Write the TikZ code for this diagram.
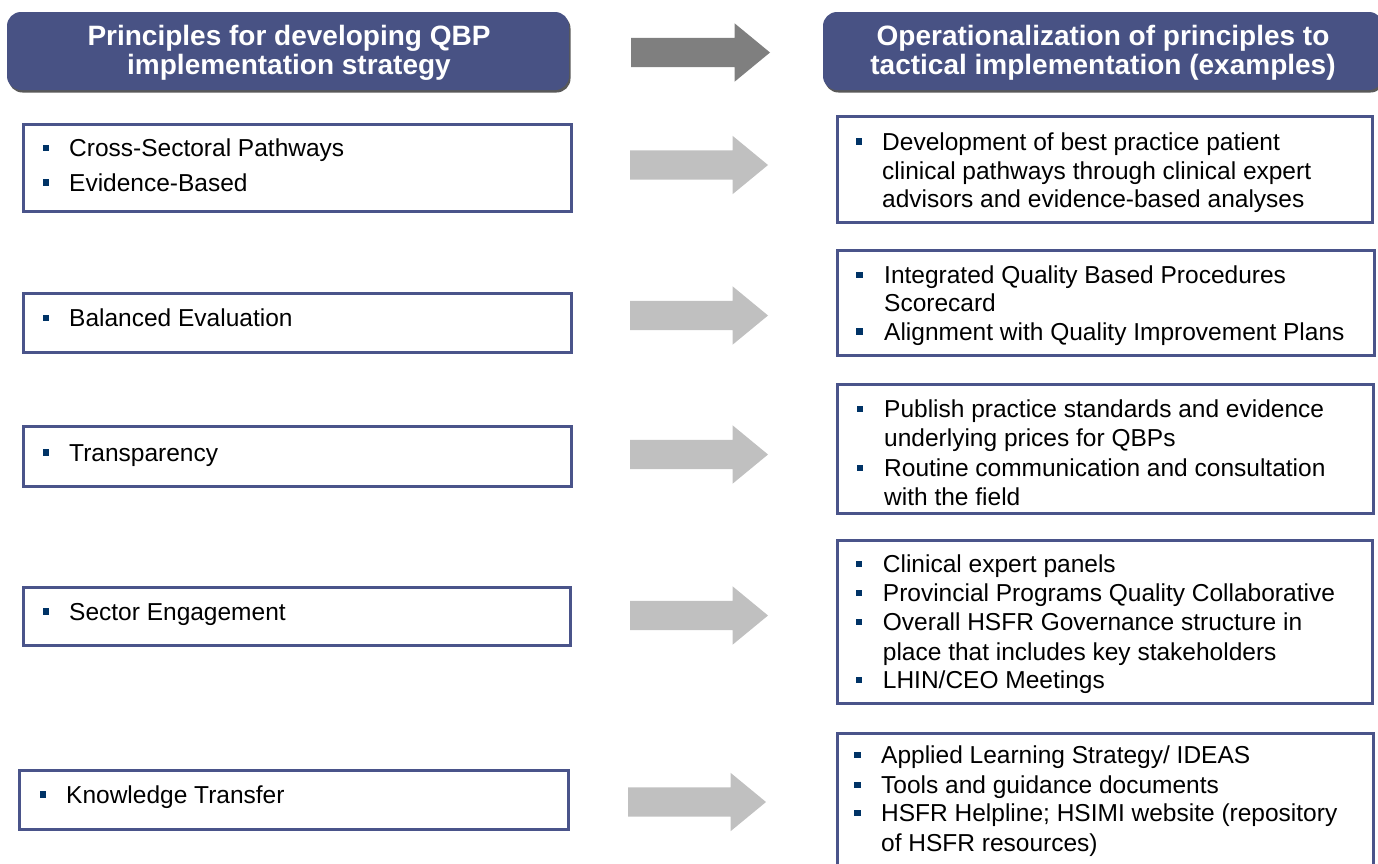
\documentclass[tikz,border=0pt]{standalone}
\usepackage{fontspec}
\setmainfont{Liberation Sans}
\usetikzlibrary{shapes.arrows,shadows}
\definecolor{hdr}{RGB}{72,82,132}
\definecolor{bord}{RGB}{74,84,138}
\definecolor{navy}{RGB}{0,51,102}
\definecolor{lightarr}{RGB}{192,192,192}
\definecolor{darkarr}{RGB}{127,127,127}
\begin{document}
\begin{tikzpicture}[x=1pt,y=-1pt,
  header/.style={rectangle, rounded corners=14pt, fill=hdr, draw=none, inner sep=0pt, outer sep=0pt,
    drop shadow={shadow xshift=1.5pt, shadow yshift=-2.5pt, fill=black!65, opacity=1}},
  hdrtext/.style={anchor=base, inner sep=0pt, text=white, font=\fontsize{28}{30}\selectfont\bfseries},
  pbox/.style={rectangle, draw=bord, line width=3pt, fill=white, inner sep=0pt, outer sep=0pt},
  item/.style={anchor=base west, inner sep=0pt, font=\fontsize{24.5}{28.5}\selectfont},
  bul/.style={rectangle, fill=navy, minimum size=6.5pt, inner sep=0pt, outer sep=0pt},
  blockarrow/.style={single arrow, anchor=tail, inner xsep=0pt, inner ysep=14.5pt,
    single arrow head extend=14.5pt, single arrow tip angle=79, minimum height=#1,
    outer sep=0pt, draw=none},
]
\useasboundingbox (0,0) rectangle (1378,863);
\clip (0,0) rectangle (1378,863);

% headers
\node[header, minimum width=562pt, minimum height=78pt] (HL) at (288,51) {};
\node[header, minimum width=560pt, minimum height=78pt] (HR) at (1103,51) {};
\node[hdrtext] (HLa) at (289,45) {Principles for developing QBP};
\node[hdrtext] (HLb) at (289,74.5) {implementation strategy};
\node[hdrtext] (HRa) at (1103,45) {Operationalization of principles to};
\node[hdrtext] (HRb) at (1103,74.5) {tactical implementation (examples)};

% arrows
\node[blockarrow=139pt, fill=darkarr] (A0) at (631,52.5) {};
\node[blockarrow=138pt, fill=lightarr] (A1) at (630,165) {};
\node[blockarrow=138pt, fill=lightarr] (A2) at (630,315.5) {};
\node[blockarrow=138pt, fill=lightarr] (A3) at (630,454.5) {};
\node[blockarrow=138pt, fill=lightarr] (A4) at (630,615.5) {};
\node[blockarrow=138pt, fill=lightarr] (A5) at (628,802) {};

% left boxes
\node[pbox, minimum width=548pt, minimum height=87pt] (L1) at (297.5,168) {};
\node[pbox, minimum width=548pt, minimum height=59pt] (L2) at (297.5,323) {};
\node[pbox, minimum width=548pt, minimum height=60pt] (L3) at (297.5,456.5) {};
\node[pbox, minimum width=547pt, minimum height=58pt] (L4) at (297,616.5) {};
\node[pbox, minimum width=549pt, minimum height=59pt] (L5) at (294,800) {};

% right boxes
\node[pbox, minimum width=535pt, minimum height=106pt] (R1) at (1105,169.5) {};
\node[pbox, minimum width=537pt, minimum height=105pt] (R2) at (1106,303) {};
\node[pbox, minimum width=536pt, minimum height=129pt] (R3) at (1105.5,449) {};
\node[pbox, minimum width=535pt, minimum height=163pt] (R4) at (1105,622) {};
\node[pbox, minimum width=536pt, minimum height=145pt] (R5) at (1105.5,806) {};

% left texts
\node[bul] (bL1a) at (46,148.2) {};
\node[item] (tL1a) at (69,156.7) {Cross-Sectoral Pathways};
\node[bul] (bL1b) at (46,182.5) {};
\node[item] (tL1b) at (69,191) {Evidence-Based};
\node[bul] (bL2) at (46,318.2) {};
\node[item] (tL2) at (69,326.7) {Balanced Evaluation};
\node[bul] (bL3) at (46,452.5) {};
\node[item] (tL3) at (69,461) {Transparency};
\node[bul] (bL4) at (46,611.5) {};
\node[item] (tL4) at (69,620) {Sector Engagement};
\node[bul] (bL5) at (43,794.5) {};
\node[item] (tL5) at (66,803) {Knowledge Transfer};

% right texts
\node[bul] (bR1a) at (859,141.5) {};
\node[item] (tR1a) at (882,150) {Development of best practice patient};
\node[item] (tR1b) at (882,179) {clinical pathways through clinical expert};
\node[item] (tR1c) at (882,207.3) {advisors and evidence-based analyses};

\node[bul] (bR2a) at (859.7,274.8) {};
\node[item] (tR2a) at (884,283.3) {Integrated Quality Based Procedures};
\node[item] (tR2b) at (884,311.7) {Scorecard};
\node[bul] (bR2c) at (859.7,331.5) {};
\node[item] (tR2c) at (884,340) {Alignment with Quality Improvement Plans};

\node[bul] (bR3a) at (860,409.2) {};
\node[item] (tR3a) at (884,417.7) {Publish practice standards and evidence};
\node[item] (tR3b) at (884,446.7) {underlying prices for QBPs};
\node[bul] (bR3c) at (860,468.2) {};
\node[item] (tR3c) at (884,476.7) {Routine communication and consultation};
\node[item] (tR3d) at (884,505) {with the field};

\node[bul] (bR4a) at (859,564.2) {};
\node[item] (tR4a) at (882.7,572.7) {Clinical expert panels};
\node[bul] (bR4b) at (859,593.2) {};
\node[item] (tR4b) at (882.7,601.7) {Provincial Programs Quality Collaborative};
\node[bul] (bR4c) at (859,622.2) {};
\node[item] (tR4c) at (882.7,630.7) {Overall HSFR Governance structure in};
\node[item] (tR4d) at (882.7,660) {place that includes key stakeholders};
\node[bul] (bR4e) at (859,679.8) {};
\node[item] (tR4e) at (882.7,688.3) {LHIN/CEO Meetings};

\node[bul] (bR5a) at (857.7,754.8) {};
\node[item] (tR5a) at (881,763.3) {Applied Learning Strategy/ IDEAS};
\node[bul] (bR5b) at (857.7,784.8) {};
\node[item] (tR5b) at (881,793.3) {Tools and guidance documents};
\node[bul] (bR5c) at (857.7,813.2) {};
\node[item] (tR5c) at (881,821.7) {HSFR Helpline; HSIMI website (repository};
\node[item] (tR5d) at (881,851.7) {of HSFR resources)};
\end{tikzpicture}
\end{document}
